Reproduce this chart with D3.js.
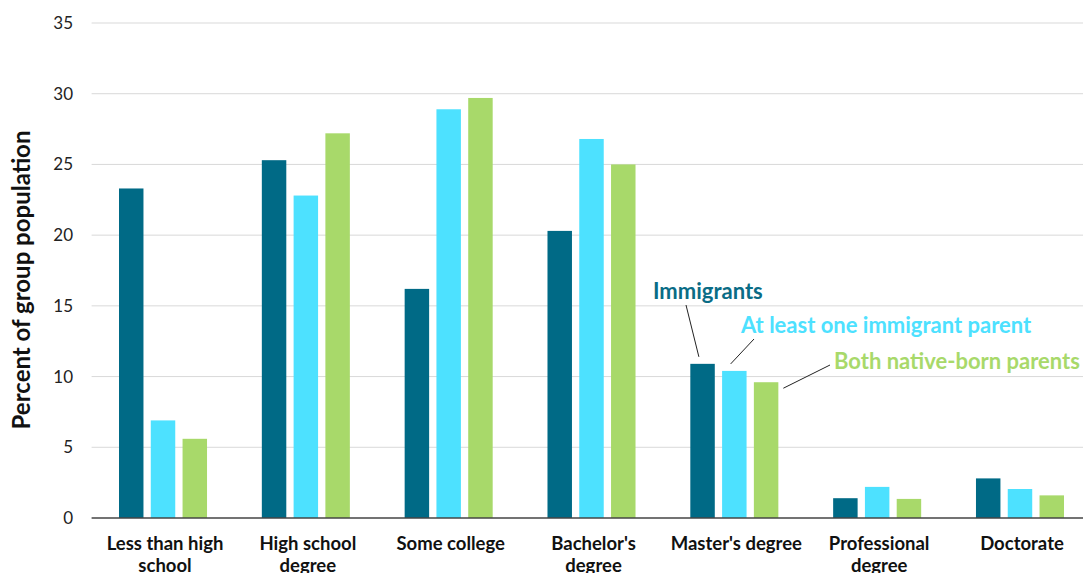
<!DOCTYPE html>
<html>
<head>
<meta charset="utf-8">
<script src="https://cdn.jsdelivr.net/npm/d3@7"></script>
<style>
  html, body { margin: 0; padding: 0; background: #fff; overflow: hidden; }
  svg { display: block; }
</style>
</head>
<body>
<svg id="chart" width="1083" height="573"></svg>
<script>
// ---- data ----
const categories = ["Less than high school", "High school degree", "Some college", "Bachelor's degree", "Master's degree", "Professional degree", "Doctorate"];
const categoryLines = [["Less than high", "school"], ["High school", "degree"], ["Some college"], ["Bachelor's", "degree"], ["Master's degree"], ["Professional", "degree"], ["Doctorate"]];
const seriesNames = ["Immigrants", "At least one immigrant parent", "Both native-born parents"];
const immigrants = [23.3, 25.3, 16.2, 20.3, 10.9, 1.4, 2.8];
const oneImmigrantParent = [6.9, 22.8, 28.9, 26.8, 10.4, 2.2, 2.05];
const nativeParents = [5.6, 27.2, 29.7, 25.0, 9.6, 1.35, 1.6];
const yTicks = [0, 5, 10, 15, 20, 25, 30, 35];
const yTitle = "Percent of group population";
const chartTitle = "Educational attainment by immigrant generation (adults aged 25 and older)";

const colors = ["#006a86", "#4de1ff", "#a8d96a"];
const labelColors = ["#0a6c86", "#4de1ff", "#a8d96a"];
const seriesValues = [immigrants, oneImmigrantParent, nativeParents];

const svg = d3.select("#chart");

const margin = { left: 91.6, right: 1091.4, top: 23, bottom: 518 };

const x0 = d3.scaleBand().domain(categories).range([margin.left, margin.right]).paddingInner(0).paddingOuter(0);
const x1 = d3.scaleBand().domain(seriesNames).range([27.4, x0.bandwidth() - 27.4]).paddingInner(0.23).paddingOuter(0);
const y = d3.scaleLinear().domain([0, 35]).range([margin.bottom, margin.top]);

// title (mostly above the visible area in the reference; only descenders show)
svg.append("text")
  .attr("x", 540).attr("y", -8)
  .attr("text-anchor", "middle")
  .attr("font-family", "Liberation Serif, DejaVu Serif, serif")
  .attr("font-weight", "bold")
  .attr("font-size", 27)
  .attr("fill", "#0f8b86")
  .text(chartTitle);

// gridlines
svg.append("g").selectAll("line")
  .data(yTicks.filter(d => d > 0))
  .join("line")
  .attr("x1", margin.left).attr("x2", 1083)
  .attr("y1", d => y(d)).attr("y2", d => y(d))
  .attr("stroke", "#d9d9d9").attr("stroke-width", 1);

// y axis tick labels
const yAxis = d3.axisLeft(y).tickValues(yTicks).tickSize(0).tickPadding(0);
const gy = svg.append("g").attr("transform", "translate(73,0)").call(yAxis);
gy.select(".domain").remove();
gy.selectAll("text")
  .attr("font-family", "Lato, 'Open Sans', sans-serif")
  .attr("font-size", 17)
  .attr("fill", "#222");

// y title
svg.append("text")
  .attr("transform", "translate(30,280) rotate(-90)")
  .attr("text-anchor", "middle")
  .attr("font-family", "Lato, 'Open Sans', sans-serif")
  .attr("font-weight", "bold")
  .attr("font-size", 24)
  .attr("fill", "#111")
  .text(yTitle);

// bars
const groups = svg.append("g").selectAll("g")
  .data(categories)
  .join("g")
  .attr("transform", d => `translate(${x0(d)},0)`);

groups.selectAll("rect")
  .data((d, i) => seriesNames.map((s, j) => ({ s, j, v: seriesValues[j][i] })))
  .join("rect")
  .attr("x", d => x1(d.s))
  .attr("width", x1.bandwidth())
  .attr("y", d => y(d.v))
  .attr("height", d => y(0) - y(d.v))
  .attr("fill", d => colors[d.j]);

// baseline
svg.append("line")
  .attr("x1", margin.left).attr("x2", 1083)
  .attr("y1", y(0)).attr("y2", y(0))
  .attr("stroke", "#444").attr("stroke-width", 1.6);

// x axis labels
const xAxis = d3.axisBottom(x0).tickSize(0).tickFormat("");
const gx = svg.append("g").attr("transform", `translate(0,${y(0)})`).call(xAxis);
gx.select(".domain").remove();
gx.selectAll(".tick").each(function(d, i) {
  const t = d3.select(this).append("text")
    .attr("text-anchor", "middle")
    .attr("font-family", "Lato, 'Open Sans', sans-serif")
    .attr("font-weight", "bold")
    .attr("font-size", 18.5)
    .attr("fill", "#111");
  categoryLines[i].forEach((line, k) => {
    t.append("tspan").attr("x", 2).attr("y", 32 + k * 22).text(line);
  });
});

// annotations on Master's degree group
const mIdx = 4;
const mx = x0(categories[mIdx]);
const annot = [
  { tx: 653, ty: 299, lx1: 686, ly1: 305, j: 0, side: "top" },
  { tx: 741, ty: 333, lx1: 754, ly1: 339, j: 1, side: "top" },
  { tx: 834, ty: 369, lx1: 830, ly1: 365, j: 2, side: "right" }
];
annot.forEach(a => {
  const bx = mx + x1(seriesNames[a.j]);
  const v = seriesValues[a.j][mIdx];
  let lx2, ly2;
  if (a.side === "top") { lx2 = bx + x1.bandwidth() * 0.35; ly2 = y(v) - 7; }
  else { lx2 = bx + x1.bandwidth() + 5; ly2 = y(v) + 6; }
  svg.append("line")
    .attr("x1", a.lx1).attr("y1", a.ly1).attr("x2", lx2).attr("y2", ly2)
    .attr("stroke", "#222").attr("stroke-width", 1);
  svg.append("text")
    .attr("x", a.tx).attr("y", a.ty)
    .attr("font-family", "Lato, 'Open Sans', sans-serif")
    .attr("font-weight", "bold")
    .attr("font-size", 22)
    .attr("fill", labelColors[a.j])
    .text(seriesNames[a.j]);
});
</script>
</body>
</html>
